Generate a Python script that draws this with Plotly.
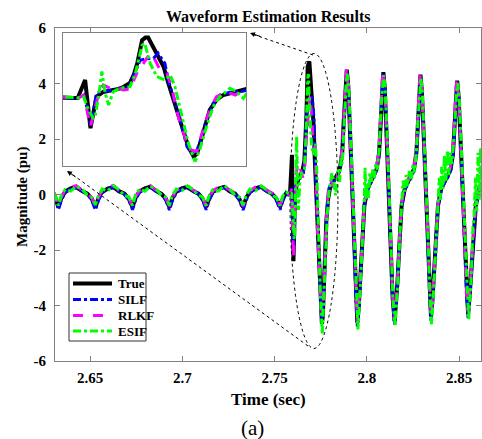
import plotly.graph_objects as go

# ---------------- data ----------------
t_pre = [2.6305, 2.6315, 2.6328, 2.6345, 2.6365, 2.6395, 2.6425, 2.6455, 2.6485,
         2.6509, 2.6529, 2.6546, 2.6566, 2.6596, 2.6626, 2.6656, 2.6686,
         2.6710, 2.6730, 2.6747, 2.6767, 2.6797, 2.6827, 2.6857, 2.6887,
         2.6910, 2.6930, 2.6947, 2.6967, 2.6997, 2.7027, 2.7057, 2.7087,
         2.7109, 2.7129, 2.7146, 2.7166, 2.7196, 2.7226, 2.7256, 2.7286,
         2.7309, 2.7329, 2.7346, 2.7366, 2.7396, 2.7426, 2.7456, 2.7486,
         2.7509, 2.7529, 2.7546, 2.7562, 2.7575, 2.7583]
true_pre = [0.02, -0.15, -0.45, -0.12, 0.10, 0.22, 0.27, 0.13, 0.03,
            -0.15, -0.46, -0.12, 0.10, 0.21, 0.27, 0.12, 0.03,
            -0.16, -0.45, -0.11, 0.10, 0.22, 0.28, 0.13, 0.02,
            -0.15, -0.46, -0.12, 0.11, 0.22, 0.27, 0.13, 0.03,
            -0.15, -0.45, -0.12, 0.10, 0.21, 0.27, 0.12, 0.03,
            -0.16, -0.46, -0.12, 0.10, 0.22, 0.28, 0.13, 0.02,
            -0.15, -0.45, -0.12, 0.04, 0.0, 0.0]
silf_pre = [0.0, -0.2, -0.55, -0.2, 0.06, 0.2, 0.24, 0.12, 0.02,
            -0.2, -0.56, -0.2, 0.06, 0.19, 0.25, 0.11, 0.02,
            -0.21, -0.55, -0.19, 0.07, 0.2, 0.25, 0.12, 0.01,
            -0.2, -0.56, -0.2, 0.06, 0.2, 0.24, 0.12, 0.02,
            -0.2, -0.55, -0.2, 0.07, 0.19, 0.25, 0.11, 0.02,
            -0.21, -0.56, -0.2, 0.06, 0.2, 0.25, 0.12, 0.01,
            -0.2, -0.55, -0.2, 0.02, 0.0, 0.0]
rlkf_pre = [0.08, -0.12, -0.42, -0.08, 0.14, 0.26, 0.32, 0.16, 0.06,
            -0.12, -0.42, -0.08, 0.14, 0.26, 0.33, 0.15, 0.06,
            -0.13, -0.41, -0.07, 0.14, 0.27, 0.32, 0.16, 0.05,
            -0.12, -0.42, -0.08, 0.15, 0.26, 0.33, 0.16, 0.06,
            -0.12, -0.41, -0.08, 0.14, 0.26, 0.32, 0.15, 0.06,
            -0.13, -0.42, -0.08, 0.14, 0.27, 0.33, 0.16, 0.05,
            -0.12, -0.41, -0.08, 0.06, 0.01, 0.0]
esif_pre = [0.05, -0.1, -0.4, -0.02, 0.18, 0.12, 0.3, 0.2, -0.02,
            -0.1, -0.38, -0.03, 0.2, 0.13, 0.32, 0.18, -0.04,
            -0.08, -0.4, 0.0, 0.19, 0.12, 0.3, 0.2, -0.03,
            -0.1, -0.39, -0.02, 0.2, 0.14, 0.31, 0.19, -0.02,
            -0.09, -0.4, -0.03, 0.18, 0.12, 0.32, 0.2, -0.04,
            -0.1, -0.38, -0.02, 0.2, 0.13, 0.3, 0.18, -0.03,
            -0.1, -0.4, -0.04, 0.1, 0.02, 0.0]

# transient (fault) section
t_true_tr = [2.7594, 2.7602, 2.7611, 2.7621, 2.7628, 2.7636, 2.7644, 2.7651, 2.7661, 2.7667,
             2.7672, 2.7679, 2.7684, 2.7688, 2.7695, 2.7703, 2.7711, 2.7718, 2.7726, 2.7736,
             2.7742, 2.7748, 2.7756, 2.7761, 2.7766, 2.7771, 2.7780, 2.7790, 2.7800, 2.7812,
             2.7825, 2.7838]
true_tr = [1.43, -2.4, 0.1, 0.48, 0.55, 0.6, 0.72, 0.87, 1.2, 1.9,
           2.8, 4.6, 4.8, 4.8, 4.1, 3.3, 2.5, 1.2, -0.16, -1.75,
           -2.8, -3.87, -4.66, -4.4, -3.5, -2.5, -0.95, -0.16, 0.24, 0.4,
           0.55, 0.7]
t_silf_tr = [2.7592, 2.7597, 2.7601, 2.7604, 2.7611, 2.7621, 2.7636, 2.7656, 2.7663, 2.7669,
             2.7676, 2.7684, 2.7696, 2.7703, 2.7713, 2.7718, 2.7726, 2.7736, 2.7746, 2.7753,
             2.7758, 2.7765, 2.7775, 2.7785, 2.7795, 2.7810, 2.7825, 2.7838]
silf_tr = [0.24, -0.8, -2.0, -1.7, 0.37, 0.5, 0.63, 0.77, 1.3, 2.1,
           3.0, 3.1, 3.15, 3.55, 2.75, 1.43, 0.1, -1.75, -3.87, -4.4,
           -4.5, -3.6, -1.75, -0.42, 0.24, 0.45, 0.5, 0.65]
t_rlkf_tr = [2.7592, 2.7602, 2.7609, 2.7616, 2.7621, 2.7631, 2.7641, 2.7651, 2.7661, 2.7671,
             2.7681, 2.7691, 2.7696, 2.7706, 2.7716, 2.7723, 2.7733, 2.7746, 2.7751, 2.7761,
             2.7771, 2.7780, 2.7790, 2.7805, 2.7818, 2.7830, 2.7838]
rlkf_tr = [0.2, -2.28, -0.7, 0.63, 1.03, 0.77, 0.9, 0.63, 0.7, 1.96,
           2.75, 3.55, 3.28, 2.2, 1.96, 0.9, -1.48, -3.6, -4.1, -4.26,
           -2.28, -0.95, 0.1, 0.5, 0.24, 0.63, 0.6]
t_esif_tr = [2.7592, 2.7599, 2.7606, 2.7609, 2.7614, 2.7619, 2.7624, 2.7629, 2.7636, 2.7646,
             2.7661, 2.7669, 2.7679, 2.7683, 2.7691, 2.7701, 2.7713, 2.7721, 2.7728, 2.7738,
             2.7748, 2.7758, 2.7765, 2.7775, 2.7785, 2.7795, 2.7810, 2.7820, 2.7830, 2.7838]
esif_tr = [0.07, -0.95, -1.6, -1.48, 0.1, 2.1, 0.37, -0.56, 0.5, 0.77,
           0.9, 1.96, 4.2, 4.34, 2.75, 1.7, 1.43, 1.83, 0.9, -1.48,
           -3.6, -5.05, -4.1, -2.28, -0.69, 0.1, 0.77, 0.5, -0.03, 0.6]

# steady post-fault section
t_ss = [2.7845, 2.7855, 2.7866, 2.7874, 2.7882, 2.7888, 2.7891,
        2.7899, 2.7909, 2.7927, 2.7941, 2.7948,
        2.7956, 2.7963, 2.7974, 2.7986, 2.8003, 2.8020, 2.8038, 2.8053, 2.8066, 2.8074, 2.8082, 2.8089,
        2.8097, 2.8107, 2.8125, 2.8139, 2.8150,
        2.8158, 2.8165, 2.8176, 2.8188, 2.8205, 2.8222, 2.8240, 2.8255, 2.8268, 2.8276, 2.8284, 2.8290,
        2.8298, 2.8308, 2.8326, 2.8340, 2.8347,
        2.8355, 2.8362, 2.8373, 2.8385, 2.8402, 2.8420, 2.8438, 2.8453, 2.8466, 2.8474, 2.8482, 2.8489,
        2.8497, 2.8507, 2.8525, 2.8539, 2.8548,
        2.8556, 2.8563, 2.8576, 2.8590, 2.8608, 2.8630]
true_ss = [0.78, 1.0, 1.5, 2.6, 3.7, 4.35, 4.5,
           3.9, 2.2, -1.1, -3.8, -4.62,
           -4.0, -3.2, -1.8, -0.4, 0.2, 0.45, 0.65, 0.92, 1.5, 2.8, 3.9, 4.41,
           3.8, 2.2, -1.1, -3.7, -4.56,
           -3.95, -3.2, -1.8, -0.4, 0.2, 0.45, 0.65, 0.92, 1.5, 2.7, 3.8, 4.32,
           3.7, 2.1, -1.1, -3.6, -4.4,
           -3.8, -3.1, -1.75, -0.4, 0.2, 0.45, 0.63, 0.9, 1.45, 2.6, 3.6, 4.1,
           3.5, 2.0, -1.1, -3.5, -4.3,
           -3.7, -3.0, -1.6, -0.4, 0.25, 0.45]
silf_ss = [0.72, 0.95, 1.42, 2.45, 3.55, 4.2, 4.4,
           3.95, 2.35, -1.0, -3.85, -4.75,
           -4.15, -3.3, -1.85, -0.45, 0.15, 0.4, 0.62, 0.88, 1.4, 2.65, 3.8, 4.35,
           3.85, 2.3, -1.0, -3.75, -4.7,
           -4.05, -3.25, -1.85, -0.45, 0.15, 0.42, 0.6, 0.88, 1.42, 2.6, 3.7, 4.25,
           3.75, 2.2, -1.0, -3.65, -4.55,
           -3.9, -3.15, -1.8, -0.45, 0.15, 0.42, 0.6, 0.86, 1.38, 2.5, 3.5, 4.05,
           3.55, 2.1, -1.0, -3.55, -4.45,
           -3.8, -3.05, -1.65, -0.45, 0.2, 0.42]
rlkf_ss = [0.85, 1.1, 1.7, 2.8, 3.9, 4.45, 4.5,
           3.8, 2.1, -1.2, -3.75, -4.55,
           -3.9, -3.1, -1.7, -0.3, 0.3, 0.55, 0.7, 1.0, 1.65, 3.0, 4.1, 4.45,
           3.7, 2.1, -1.2, -3.65, -4.5,
           -3.85, -3.1, -1.7, -0.3, 0.3, 0.55, 0.7, 1.0, 1.65, 2.9, 4.0, 4.35,
           3.6, 2.0, -1.2, -3.55, -4.35,
           -3.7, -3.0, -1.65, -0.3, 0.3, 0.52, 0.7, 1.0, 1.6, 2.8, 3.85, 4.15,
           3.4, 1.9, -1.2, -3.45, -4.25,
           -3.6, -2.9, -1.5, -0.3, 0.3, 0.5]
t_esif_ss = [2.7845, 2.7852, 2.7860, 2.7866, 2.7874, 2.7882, 2.7889, 2.7893,
             2.7901, 2.7911, 2.7929, 2.7943, 2.7951,
             2.7959, 2.7966, 2.7976, 2.7984, 2.7990, 2.7995, 2.8003, 2.8009, 2.8016, 2.8024,
             2.8032, 2.8040, 2.8048, 2.8056, 2.8066, 2.8074, 2.8082, 2.8091,
             2.8099, 2.8109, 2.8127, 2.8141, 2.8153,
             2.8160, 2.8167, 2.8178, 2.8188, 2.8196, 2.8204, 2.8212, 2.8220, 2.8230, 2.8240,
             2.8250, 2.8258, 2.8268, 2.8276, 2.8284, 2.8292,
             2.8300, 2.8310, 2.8328, 2.8342, 2.8350,
             2.8357, 2.8364, 2.8375, 2.8385, 2.8392, 2.8398, 2.8405, 2.8412, 2.8420, 2.8428,
             2.8436, 2.8444, 2.8452, 2.8460, 2.8468, 2.8476, 2.8484, 2.8492,
             2.8500, 2.8510, 2.8528, 2.8542, 2.8551,
             2.8558, 2.8566, 2.8574, 2.8580, 2.8588, 2.8595, 2.8602, 2.8609, 2.8616, 2.8623, 2.8630]
esif_ss = [0.9, 0.45, 1.3, 1.1, 2.3, 3.4, 4.2, 4.35,
           3.9, 2.3, -1.0, -3.9, -4.86,
           -4.0, -3.0, -1.5, -0.5, 0.96, -0.18, 0.42, -0.12, 0.8, 0.4,
           0.9, 0.55, 1.1, 0.9, 1.6, 2.6, 3.7, 4.3,
           3.8, 2.2, -1.0, -3.8, -4.75,
           -4.1, -3.2, -1.5, -0.4, 0.5, 0.1, 0.7, 0.3, 0.85, 0.5,
           1.1, 0.8, 1.5, 2.6, 3.6, 4.2,
           3.7, 2.1, -1.0, -3.7, -4.68,
           -4.0, -3.1, -1.5, -0.6, 0.6, -0.2, 1.0, 0.2, 1.4, 0.5,
           1.6, 0.7, 1.5, 1.1, 1.7, 2.5, 3.5, 4.0,
           3.5, 1.9, -1.0, -3.6, -4.5,
           -3.8, -2.8, -1.2, -0.9, 0.6, -0.6, 1.5, -0.2, 1.7, 0.3, 1.2]

x_tickvals = [2.65, 2.70, 2.75, 2.80, 2.85]
x_ticktext = ["2.65", "2.7", "2.75", "2.8", "2.85"]
y_tickvals = [-6, -4, -2, 0, 2, 4, 6]
y_ticktext = ["-6", "-4", "-2", "0", "2", "4", "6"]

# ---------------- figure ----------------
FONT = "Liberation Serif, Times New Roman, serif"
L, R, T, B = 55, 481, 28, 361


def px(x):
    return (x - L) / (R - L)


def py(y):
    return (B - y) / (B - T)


series = [
    ("True", t_pre + t_true_tr + t_ss, true_pre + true_tr + true_ss, "#000000", 4, "solid"),
    ("SILF", t_pre + t_silf_tr + t_ss, silf_pre + silf_tr + silf_ss, "#0000FF", 3, "8px,3px,3px,3px"),
    ("RLKF", t_pre + t_rlkf_tr + t_ss, rlkf_pre + rlkf_tr + rlkf_ss, "#FF00FF", 3, "10px,10px"),
    ("ESIF", t_pre + t_esif_tr + t_esif_ss, esif_pre + esif_tr + esif_ss, "#00FF00", 3, "8px,3px,3px,3px"),
]

fig = go.Figure()
for name, t, v, c, w, d in series:
    fig.add_trace(go.Scatter(x=t, y=v, mode="lines", name=name, showlegend=False,
                             line=dict(color=c, width=w, dash=d),
                             xaxis="x", yaxis="y"))
for name, t, v, c, w, d in series:
    fig.add_trace(go.Scatter(x=t, y=v, mode="lines", name=name, showlegend=False,
                             line=dict(color=c, width=w, dash=d),
                             xaxis="x2", yaxis="y2"))

axcol = "#808080"
tickfont = dict(family=FONT, size=15, color="black", weight="bold")
fig.update_layout(
    width=482, height=439, autosize=False, showlegend=False,
    margin=dict(l=L, r=482 - R, t=T, b=439 - B),
    paper_bgcolor="white", plot_bgcolor="white",
    xaxis=dict(range=[2.6310, 2.8618], tickvals=x_tickvals, ticktext=x_ticktext,
               ticks="inside", ticklen=5, tickcolor=axcol, showline=True, linecolor=axcol,
               linewidth=1, mirror="ticks", showgrid=False, zeroline=False,
               tickfont=tickfont, ticklabelstandoff=3),
    yaxis=dict(range=[-6, 6], tickvals=y_tickvals, ticktext=y_ticktext,
               ticks="inside", ticklen=5, tickcolor=axcol, showline=True, linecolor=axcol,
               linewidth=1, mirror="ticks", showgrid=False, zeroline=False,
               tickfont=tickfont, ticklabelstandoff=5),
    xaxis2=dict(domain=[px(63), px(246)], range=[2.7561, 2.7834], anchor="y2",
                showticklabels=False, ticks="", showline=True, linecolor=axcol, linewidth=1,
                mirror=True, showgrid=False, zeroline=False),
    yaxis2=dict(domain=[py(166), py(33)], range=[-5.4, 5.16], anchor="x2",
                showticklabels=False, ticks="", showline=True, linecolor=axcol, linewidth=1,
                mirror=True, showgrid=False, zeroline=False),
)

shapes = []
# ellipse and dotted connector lines
shapes.append(dict(type="circle", xref="x", yref="y", x0=2.7583, x1=2.7843, y0=-5.55, y1=5.08,
                   line=dict(color="black", width=1, dash="dot")))
shapes.append(dict(type="line", xref="paper", yref="paper", x0=px(313), y0=py(55), x1=px(252), y1=py(34),
                   line=dict(color="black", width=1, dash="dot")))
shapes.append(dict(type="line", xref="paper", yref="paper", x0=px(308), y0=py(346), x1=px(69), y1=py(172),
                   line=dict(color="black", width=1, dash="dot")))

# legend box drawn from the series styles
leg_x0, leg_x1, leg_y0, leg_y1 = 69, 146, 273, 341
shapes.append(dict(type="rect", xref="paper", yref="paper", x0=px(leg_x0), x1=px(leg_x1),
                   y0=py(leg_y1), y1=py(leg_y0), line=dict(color="#333333", width=1),
                   fillcolor="white", layer="above"))
leg_rows = [283.5, 299.5, 315.5, 331]
ann = []
for (name, t, v, c, w, d), yy in zip(series, leg_rows):
    shapes.append(dict(type="line", xref="paper", yref="paper", x0=px(73), x1=px(112),
                       y0=py(yy), y1=py(yy), line=dict(color=c, width=w, dash=d), layer="above"))
    ann.append(dict(text="<b>%s</b>" % name, x=px(116), y=py(yy), xref="paper", yref="paper",
                    xanchor="left", yanchor="middle", showarrow=False,
                    font=dict(family=FONT, size=13, color="black")))

ann += [
    dict(text="<b>Waveform Estimation Results</b>", x=0.5, y=py(17), xref="paper", yref="paper",
         xanchor="center", yanchor="middle", showarrow=False,
         font=dict(family=FONT, size=16, color="black")),
    dict(text="<b>Time (sec)</b>", x=px(268), y=py(399), xref="paper", yref="paper",
         xanchor="center", yanchor="middle", showarrow=False,
         font=dict(family=FONT, size=17, color="black")),
    dict(text="(a)", x=px(252), y=py(428), xref="paper", yref="paper",
         xanchor="center", yanchor="middle", showarrow=False,
         font=dict(family=FONT, size=21, color="black")),
    dict(text="<b>Magnitude (pu)</b>", x=px(22), y=py(197), xref="paper", yref="paper",
         xanchor="center", yanchor="middle", showarrow=False, textangle=-90,
         font=dict(family=FONT, size=15, color="black")),
    dict(text="", x=px(250), y=py(33), xref="paper", yref="paper", showarrow=True,
         ax=12, ay=4, arrowhead=2, arrowsize=1, arrowwidth=1, arrowcolor="black"),
    dict(text="", x=px(67), y=py(171), xref="paper", yref="paper", showarrow=True,
         ax=10, ay=7, arrowhead=2, arrowsize=1, arrowwidth=1, arrowcolor="black"),
]
fig.update_layout(shapes=shapes, annotations=ann)

fig.write_html("out.html")
